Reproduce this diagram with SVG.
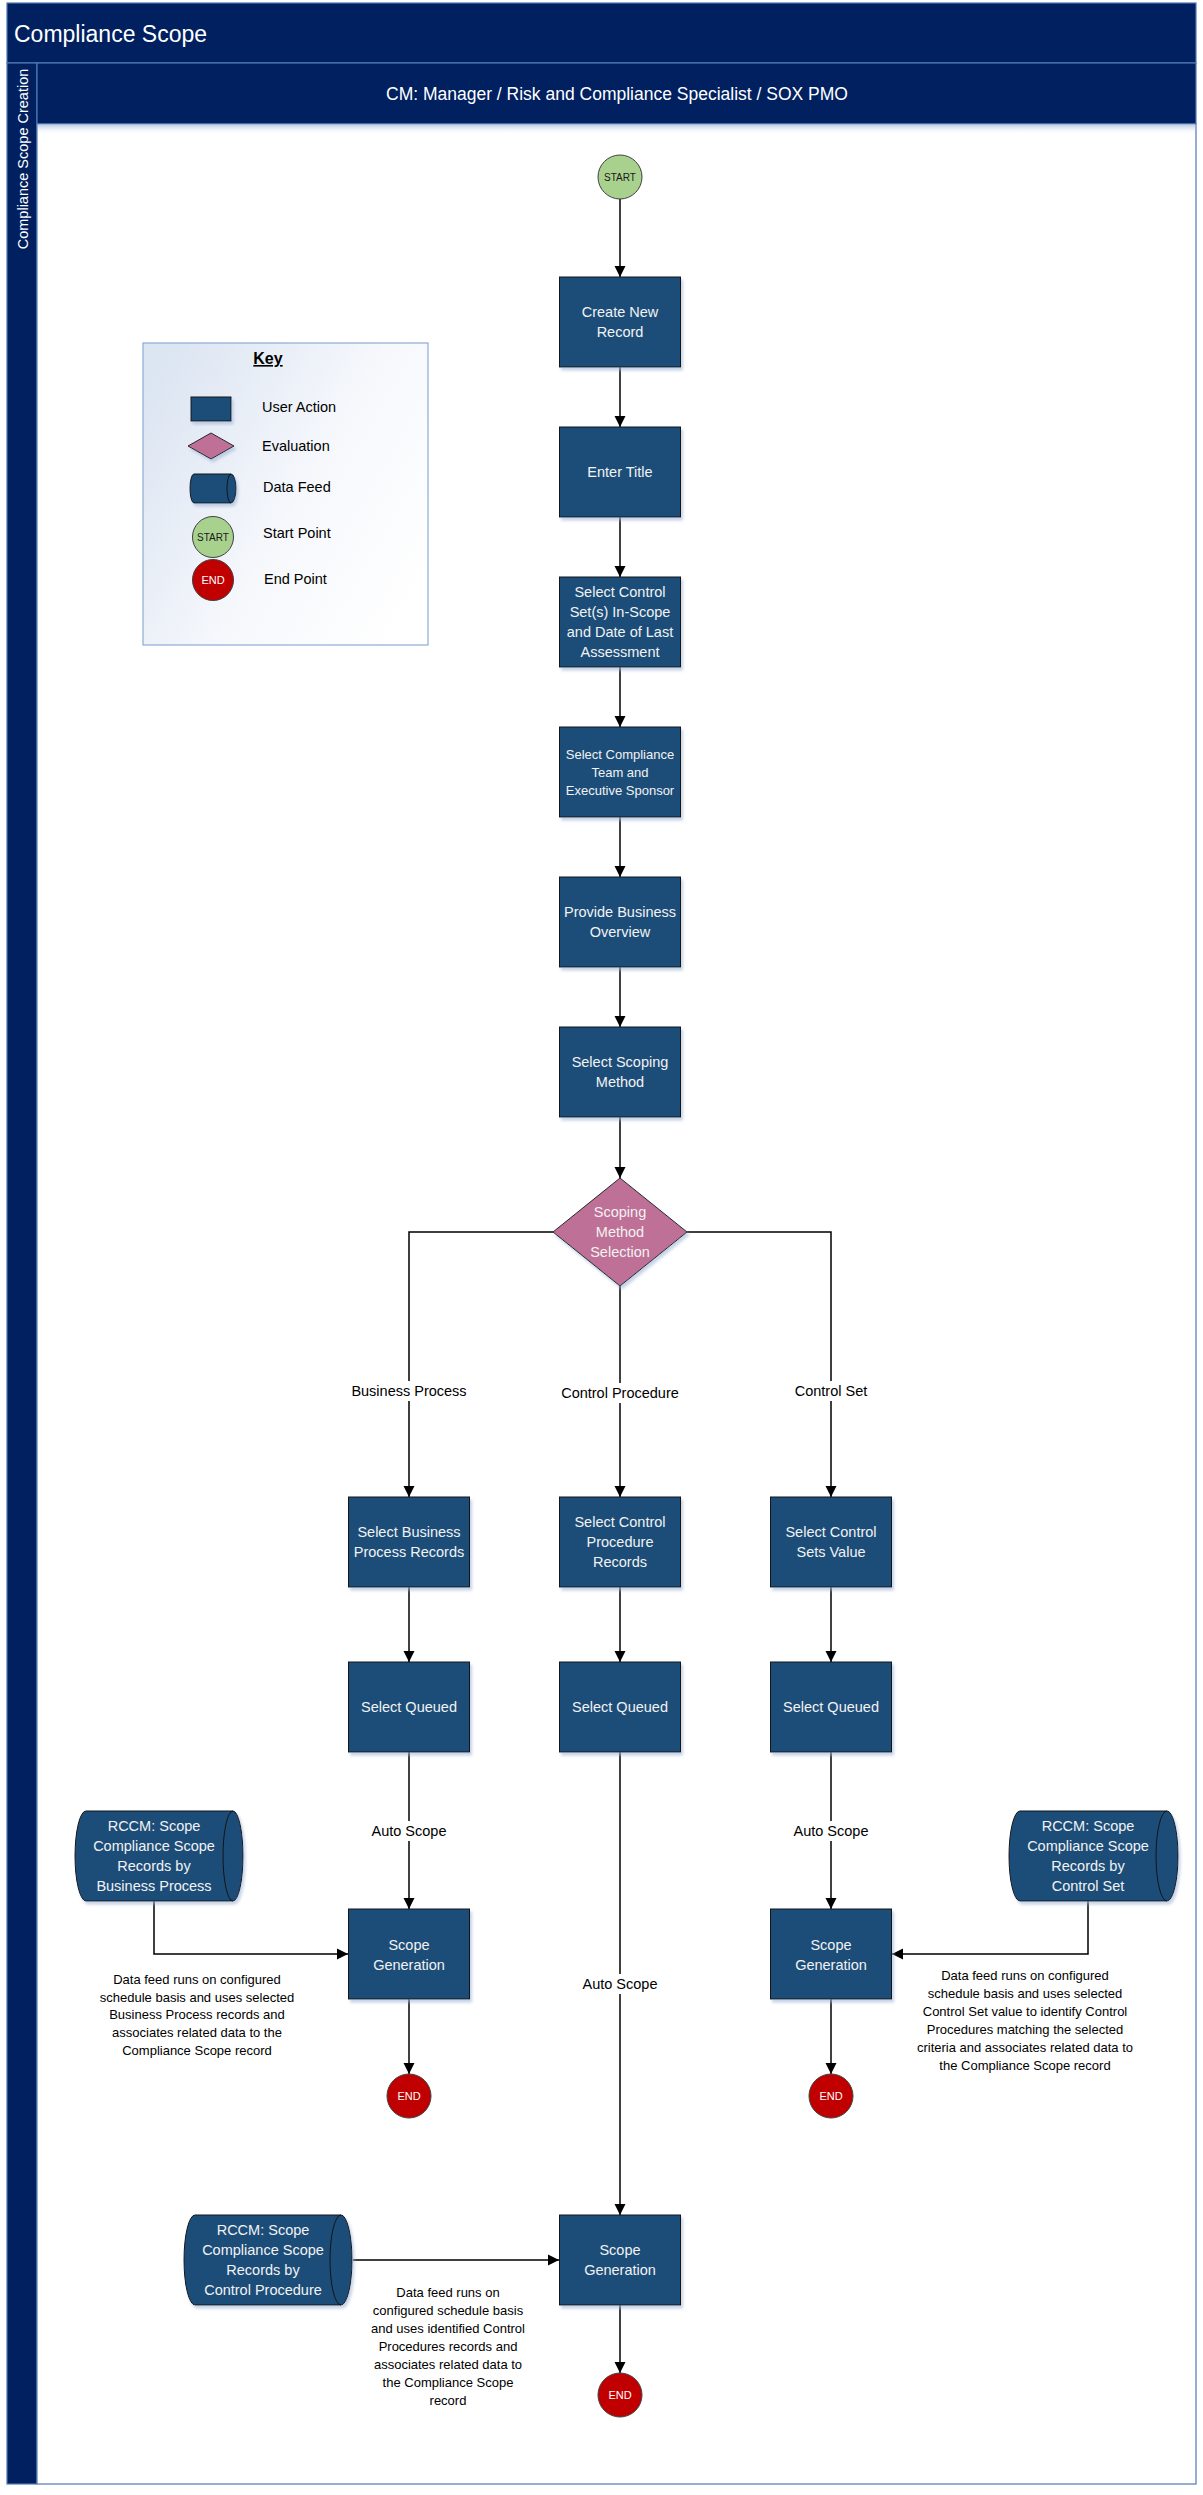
<svg xmlns="http://www.w3.org/2000/svg" width="1203" height="2495" viewBox="0 0 1203 2495">
<defs>
  <style>
    text { font-family: "Liberation Sans", Arial, sans-serif; }
    .title { fill: #ffffff; font-size: 23px; }
    .hdr { fill: #ffffff; font-size: 17.5px; }
    .lane { fill: #ffffff; font-size: 14.5px; }
    .box { fill: #1f4e79; stroke: #141414; stroke-width: 1; filter: url(#shadow); }
    .bt { fill: #f2f2f2; font-size: 14.5px; text-anchor: middle; }
    .bts { fill: #f2f2f2; font-size: 13px; text-anchor: middle; }
    .dia { fill: #be7096; stroke: #262626; stroke-width: 1; filter: url(#shadow); }
    .cyl { fill: #1f4e79; stroke: #141414; stroke-width: 1; filter: url(#shadow); }
    .cylin { fill: none; stroke: #141414; stroke-width: 1; }
    .start { fill: #a9d18e; stroke: #404040; stroke-width: 1; }
    .end { fill: #c00000; stroke: #404040; stroke-width: 1; }
    .st { fill: #1a1a1a; font-size: 10px; text-anchor: middle; }
    .et { fill: #ffffff; font-size: 11px; text-anchor: middle; }
    .conn { fill: none; stroke: #000000; stroke-width: 1.5; }
    .arr { marker-end: url(#ah); }
    .lbl { fill: #000000; font-size: 14.5px; text-anchor: middle; }
    .lblbg { fill: #ffffff; }
    .desc { fill: #000000; font-size: 13px; text-anchor: middle; }
    .key { fill: #000000; font-size: 14.5px; }
  </style>
  <marker id="ah" markerUnits="userSpaceOnUse" markerWidth="12" markerHeight="12" viewBox="0 0 12 12" refX="11" refY="6" orient="auto">
    <path d="M0,0.5 L11,6 L0,11.5 Z" fill="#000000"/>
  </marker>
  <filter id="shadow" x="-10%" y="-10%" width="130%" height="130%">
    <feDropShadow dx="2" dy="3" stdDeviation="1.8" flood-color="#9fb4d6" flood-opacity="0.6"/>
  </filter>
  <linearGradient id="keyg" x1="0" y1="0.2" x2="1" y2="0.8">
    <stop offset="0" stop-color="#dce5f2"/>
    <stop offset="0.55" stop-color="#f6f8fc"/>
    <stop offset="1" stop-color="#ffffff"/>
  </linearGradient>
  <linearGradient id="topsh" x1="0" y1="0" x2="0" y2="1">
    <stop offset="0" stop-color="#b9cbe4"/>
    <stop offset="1" stop-color="#ffffff" stop-opacity="0"/>
  </linearGradient>
</defs>

<rect x="0" y="0" width="1203" height="2495" fill="#ffffff"/>

<!-- Pool / lane frame -->
<g id="pool">
  <rect x="7" y="3" width="1189" height="60" fill="#002060" stroke="#4f79b4" stroke-width="1.2"/>
  <text class="title" x="14" y="42">Compliance Scope</text>
  <rect x="7" y="63" width="30" height="2421" fill="#002060" stroke="#4f79b4" stroke-width="1.2"/>
  <text class="lane" transform="translate(28,159) rotate(-90)" text-anchor="middle">Compliance Scope Creation</text>
  <rect x="37" y="63" width="1159" height="61" fill="#002060" stroke="#4f79b4" stroke-width="1.2"/>
  <text class="hdr" x="617" y="100" text-anchor="middle">CM: Manager / Risk and Compliance Specialist / SOX PMO</text>
  <rect x="37" y="124" width="1159" height="2360" fill="#ffffff" stroke="#4f79b4" stroke-width="1.2"/>
  <rect x="38" y="124.6" width="1157" height="10" fill="url(#topsh)"/>
</g>

<!-- Key -->
<g id="key">
  <rect x="143" y="343" width="285" height="302" fill="url(#keyg)" stroke="#8eaad6" stroke-width="1.2"/>
  <text x="268" y="364" font-size="16" font-weight="bold" text-anchor="middle" text-decoration="underline" fill="#000">Key</text>
  <rect class="box" x="191" y="397" width="40" height="24"/>
  <text class="key" x="262" y="412">User Action</text>
  <polygon class="dia" points="211,433 234,446 211,459 188,446"/>
  <text class="key" x="262" y="451">Evaluation</text>
  <path class="cyl" d="M194,474 L231,474 A5,14.5 0 0 1 231,503 L194,503 A4,14.5 0 0 1 194,474 Z"/>
  <path class="cylin" d="M231,474 A4,14.5 0 0 0 231,503"/>
  <text class="key" x="263" y="492">Data Feed</text>
  <circle class="start" cx="213" cy="537" r="20.5"/>
  <text class="st" x="213" y="541">START</text>
  <text class="key" x="263" y="538">Start Point</text>
  <circle class="end" cx="213" cy="580" r="20.5"/>
  <text class="et" x="213" y="584">END</text>
  <text class="key" x="264" y="584">End Point</text>
</g>

<!-- Connectors -->
<g id="connectors">
  <path class="conn arr" d="M620,199 L620,277"/>
  <path class="conn arr" d="M620,367 L620,427"/>
  <path class="conn arr" d="M620,517 L620,577"/>
  <path class="conn arr" d="M620,667 L620,727"/>
  <path class="conn arr" d="M620,817 L620,877"/>
  <path class="conn arr" d="M620,967 L620,1027"/>
  <path class="conn arr" d="M620,1117 L620,1178"/>
  <path class="conn arr" d="M553,1232 L409,1232 L409,1497"/>
  <path class="conn arr" d="M620,1286 L620,1497"/>
  <path class="conn arr" d="M687,1232 L831,1232 L831,1497"/>
  <path class="conn arr" d="M409,1587 L409,1662"/>
  <path class="conn arr" d="M620,1587 L620,1662"/>
  <path class="conn arr" d="M831,1587 L831,1662"/>
  <path class="conn arr" d="M409,1752 L409,1909"/>
  <path class="conn arr" d="M831,1752 L831,1909"/>
  <path class="conn arr" d="M620,1752 L620,2215"/>
  <path class="conn arr" d="M409,1999 L409,2074"/>
  <path class="conn arr" d="M831,1999 L831,2074"/>
  <path class="conn arr" d="M620,2305 L620,2373"/>
  <path class="conn arr" d="M154,1901 L154,1954 L348,1954"/>
  <path class="conn arr" d="M1088,1901 L1088,1954 L892,1954"/>
  <path class="conn arr" d="M353,2260 L559,2260"/>

  <rect class="lblbg" x="350" y="1381" width="118" height="20"/>
  <text class="lbl" x="409" y="1396">Business Process</text>
  <rect class="lblbg" x="558" y="1383" width="124" height="20"/>
  <text class="lbl" x="620" y="1398">Control Procedure</text>
  <rect class="lblbg" x="790" y="1381" width="82" height="20"/>
  <text class="lbl" x="831" y="1396">Control Set</text>
  <rect class="lblbg" x="370" y="1821" width="78" height="20"/>
  <text class="lbl" x="409" y="1836">Auto Scope</text>
  <rect class="lblbg" x="792" y="1821" width="78" height="20"/>
  <text class="lbl" x="831" y="1836">Auto Scope</text>
  <rect class="lblbg" x="581" y="1974" width="78" height="20"/>
  <text class="lbl" x="620" y="1989">Auto Scope</text>
</g>

<!-- Main column -->
<g id="start1">
  <circle class="start" cx="620" cy="177" r="22"/>
  <text class="st" x="620" y="181">START</text>
</g>
<g id="create-new-record">
  <rect class="box" x="559.5" y="277" width="121" height="90"/>
  <text class="bt" x="620" y="317">Create New</text>
  <text class="bt" x="620" y="337">Record</text>
</g>
<g id="enter-title">
  <rect class="box" x="559.5" y="427" width="121" height="90"/>
  <text class="bt" x="620" y="477">Enter Title</text>
</g>
<g id="select-control-sets">
  <rect class="box" x="559.5" y="577" width="121" height="90"/>
  <text class="bt" x="620" y="597">Select Control</text>
  <text class="bt" x="620" y="617">Set(s) In-Scope</text>
  <text class="bt" x="620" y="637">and Date of Last</text>
  <text class="bt" x="620" y="657">Assessment</text>
</g>
<g id="select-compliance-team">
  <rect class="box" x="559.5" y="727" width="121" height="90"/>
  <text class="bts" x="620" y="758.5">Select Compliance</text>
  <text class="bts" x="620" y="776.5">Team and</text>
  <text class="bts" x="620" y="794.5">Executive Sponsor</text>
</g>
<g id="provide-business-overview">
  <rect class="box" x="559.5" y="877" width="121" height="90"/>
  <text class="bt" x="620" y="917">Provide Business</text>
  <text class="bt" x="620" y="937">Overview</text>
</g>
<g id="select-scoping-method">
  <rect class="box" x="559.5" y="1027" width="121" height="90"/>
  <text class="bt" x="620" y="1067">Select Scoping</text>
  <text class="bt" x="620" y="1087">Method</text>
</g>
<g id="scoping-method-selection">
  <polygon class="dia" points="620,1178 687,1232 620,1286 553,1232"/>
  <text class="bt" x="620" y="1217">Scoping</text>
  <text class="bt" x="620" y="1237">Method</text>
  <text class="bt" x="620" y="1257">Selection</text>
</g>

<!-- Business process column -->
<g id="select-business-process-records">
  <rect class="box" x="348.5" y="1497" width="121" height="90"/>
  <text class="bt" x="409" y="1537">Select Business</text>
  <text class="bt" x="409" y="1557">Process Records</text>
</g>
<g id="select-queued-bp">
  <rect class="box" x="348.5" y="1662" width="121" height="90"/>
  <text class="bt" x="409" y="1712">Select Queued</text>
</g>
<g id="scope-generation-bp">
  <rect class="box" x="348.5" y="1909" width="121" height="90"/>
  <text class="bt" x="409" y="1950">Scope</text>
  <text class="bt" x="409" y="1970">Generation</text>
</g>
<g id="end-bp">
  <circle class="end" cx="409" cy="2096" r="22"/>
  <text class="et" x="409" y="2100">END</text>
</g>
<g id="feed-bp">
  <path class="cyl" d="M86,1811 L233,1811 A10,45 0 0 1 233,1901 L86,1901 A11,45 0 0 1 86,1811 Z"/>
  <path class="cylin" d="M233,1811 A10,45 0 0 0 233,1901"/>
  <text class="bt" x="154" y="1831">RCCM: Scope</text>
  <text class="bt" x="154" y="1851">Compliance Scope</text>
  <text class="bt" x="154" y="1871">Records by</text>
  <text class="bt" x="154" y="1891">Business Process</text>
</g>
<g id="desc-bp">
  <text class="desc" x="197" y="1983.5">Data feed runs on configured</text>
  <text class="desc" x="197" y="2001.5">schedule basis and uses selected</text>
  <text class="desc" x="197" y="2019">Business Process records and</text>
  <text class="desc" x="197" y="2037">associates related data to the</text>
  <text class="desc" x="197" y="2055">Compliance Scope record</text>
</g>

<!-- Control procedure column -->
<g id="select-control-procedure-records">
  <rect class="box" x="559.5" y="1497" width="121" height="90"/>
  <text class="bt" x="620" y="1527">Select Control</text>
  <text class="bt" x="620" y="1547">Procedure</text>
  <text class="bt" x="620" y="1567">Records</text>
</g>
<g id="select-queued-cp">
  <rect class="box" x="559.5" y="1662" width="121" height="90"/>
  <text class="bt" x="620" y="1712">Select Queued</text>
</g>
<g id="scope-generation-cp">
  <rect class="box" x="559.5" y="2215" width="121" height="90"/>
  <text class="bt" x="620" y="2255">Scope</text>
  <text class="bt" x="620" y="2275">Generation</text>
</g>
<g id="end-cp">
  <circle class="end" cx="620" cy="2395" r="22"/>
  <text class="et" x="620" y="2399">END</text>
</g>
<g id="feed-cp">
  <path class="cyl" d="M195,2215 L341,2215 A11,45 0 0 1 341,2305 L195,2305 A11,45 0 0 1 195,2215 Z"/>
  <path class="cylin" d="M341,2215 A11,45 0 0 0 341,2305"/>
  <text class="bt" x="263" y="2235">RCCM: Scope</text>
  <text class="bt" x="263" y="2255">Compliance Scope</text>
  <text class="bt" x="263" y="2275">Records by</text>
  <text class="bt" x="263" y="2295">Control Procedure</text>
</g>
<g id="desc-cp">
  <text class="desc" x="448" y="2296.5">Data feed runs on</text>
  <text class="desc" x="448" y="2314.5">configured schedule basis</text>
  <text class="desc" x="448" y="2332.5">and uses identified Control</text>
  <text class="desc" x="448" y="2350.5">Procedures records and</text>
  <text class="desc" x="448" y="2368.5">associates related data to</text>
  <text class="desc" x="448" y="2386.5">the Compliance Scope</text>
  <text class="desc" x="448" y="2404.5">record</text>
</g>

<!-- Control set column -->
<g id="select-control-sets-value">
  <rect class="box" x="770.5" y="1497" width="121" height="90"/>
  <text class="bt" x="831" y="1537">Select Control</text>
  <text class="bt" x="831" y="1557">Sets Value</text>
</g>
<g id="select-queued-cs">
  <rect class="box" x="770.5" y="1662" width="121" height="90"/>
  <text class="bt" x="831" y="1712">Select Queued</text>
</g>
<g id="scope-generation-cs">
  <rect class="box" x="770.5" y="1909" width="121" height="90"/>
  <text class="bt" x="831" y="1950">Scope</text>
  <text class="bt" x="831" y="1970">Generation</text>
</g>
<g id="end-cs">
  <circle class="end" cx="831" cy="2096" r="22"/>
  <text class="et" x="831" y="2100">END</text>
</g>
<g id="feed-cs">
  <path class="cyl" d="M1020,1811 L1167,1811 A11,45 0 0 1 1167,1901 L1020,1901 A11,45 0 0 1 1020,1811 Z"/>
  <path class="cylin" d="M1167,1811 A11,45 0 0 0 1167,1901"/>
  <text class="bt" x="1088" y="1831">RCCM: Scope</text>
  <text class="bt" x="1088" y="1851">Compliance Scope</text>
  <text class="bt" x="1088" y="1871">Records by</text>
  <text class="bt" x="1088" y="1891">Control Set</text>
</g>
<g id="desc-cs">
  <text class="desc" x="1025" y="1979.5">Data feed runs on configured</text>
  <text class="desc" x="1025" y="1997.5">schedule basis and uses selected</text>
  <text class="desc" x="1025" y="2015.5">Control Set value to identify Control</text>
  <text class="desc" x="1025" y="2033.5">Procedures matching the selected</text>
  <text class="desc" x="1025" y="2051.5">criteria and associates related data to</text>
  <text class="desc" x="1025" y="2069.5">the Compliance Scope record</text>
</g>
</svg>
